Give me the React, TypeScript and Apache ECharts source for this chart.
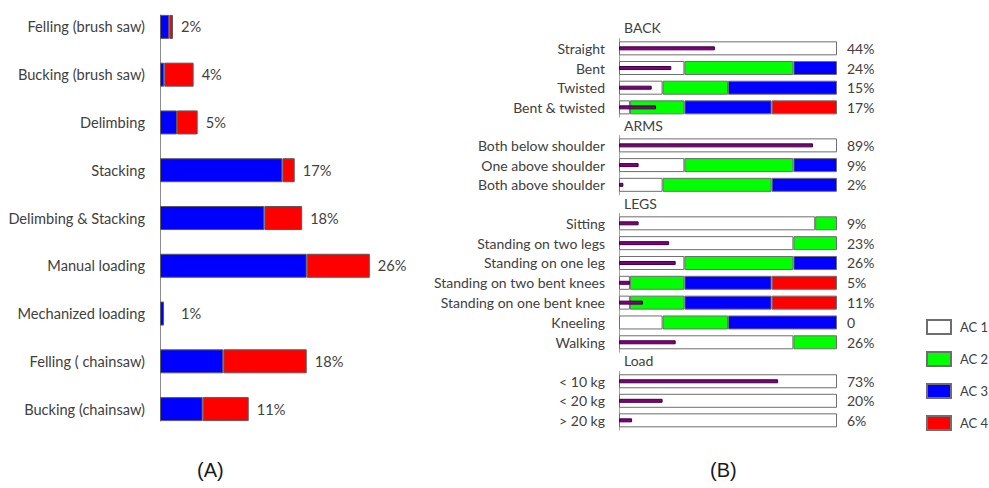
import React, { useEffect, useRef } from "react";
import * as echarts from "echarts";

// ---------- Panel A data ----------
const tasks = [
  "Felling (brush saw)",
  "Bucking (brush saw)",
  "Delimbing",
  "Stacking",
  "Delimbing & Stacking",
  "Manual loading",
  "Mechanized loading",
  "Felling ( chainsaw)",
  "Bucking (chainsaw)",
];
const taskBlue = [1.15, 0.53, 2.11, 15.17, 12.94, 18.19, 0.5, 7.85, 5.29];
const taskRed = [0.46, 3.64, 2.56, 1.53, 4.68, 7.82, 0, 10.34, 5.71];
const taskLabels = ["2%", "4%", "5%", "17%", "18%", "26%", "1%", "18%", "11%"];

// ---------- Panel B data ----------
const sectionTitles = ["BACK", "ARMS", "LEGS", "Load"];
const backRows = ["Straight", "Bent", "Twisted", "Bent & twisted"];
const armsRows = ["Both below shoulder", "One above shoulder", "Both above shoulder"];
const legsRows = [
  "Sitting",
  "Standing on two legs",
  "Standing on one leg",
  "Standing on two bent knees",
  "Standing on one bent knee",
  "Kneeling",
  "Walking",
];
const loadRows = ["< 10 kg", "< 20 kg", "> 20 kg"];

const ac1Values = [[100, 30, 20, 5], [100, 30, 20], [90, 80, 30, 5, 5, 20, 80], [100, 100, 100]];
const ac2Values = [[0, 50, 30, 25], [0, 50, 50], [10, 20, 50, 25, 25, 30, 20], [0, 0, 0]];
const ac3Values = [[0, 20, 50, 40], [0, 20, 30], [0, 0, 20, 40, 40, 50, 0], [0, 0, 0]];
const ac4Values = [[0, 0, 0, 30], [0, 0, 0], [0, 0, 0, 30, 30, 0, 0], [0, 0, 0]];
const postureShare = [[44, 24, 15, 17], [89, 9, 2], [9, 23, 26, 5, 11, 0, 26], [73, 20, 6]];
const postureLabels = [
  ["44%", "24%", "15%", "17%"],
  ["89%", "9%", "2%"],
  ["9%", "23%", "26%", "5%", "11%", "0", "26%"],
  ["73%", "20%", "6%"],
];
const acNames = ["AC 1", "AC 2", "AC 3", "AC 4"];

// ---------- styles ----------
const FONT = "Lato";
const TEXT = "#404040";
const acColors = ["#ffffff", "#00ff00", "#0000ff", "#ff0000"];
const sectionRows = [backRows, armsRows, legsRows, loadRows];
const acValues = [ac1Values, ac2Values, ac3Values, ac4Values];
const sectionLayout = [
  { top: 38.5, height: 78.7 },
  { top: 135.5, height: 59.2 },
  { top: 213.4, height: 138.8 },
  { top: 371.5, height: 58.6 },
];
const headerTops = [20, 118, 196, 353];

function buildOption() {
  const grid: any[] = [
    { left: 160, top: 3, width: 242, height: 430 },
    { left: 160, top: 15, width: 242, height: 406 },
  ];
  const xAxis: any[] = [
    { type: "value", gridIndex: 0, min: 0, max: 30, show: false },
    { type: "value", gridIndex: 1, min: 0, max: 1, show: false },
  ];
  const yAxis: any[] = [
    {
      type: "category",
      gridIndex: 0,
      data: tasks,
      inverse: true,
      axisLine: { show: false },
      axisTick: { show: false },
      axisLabel: { margin: 15, color: TEXT, fontSize: 14.6, fontFamily: FONT },
    },
    {
      type: "value",
      gridIndex: 1,
      min: 0,
      max: 1,
      axisLine: { show: true, lineStyle: { color: "#8c8c8c", width: 1 } },
      axisTick: { show: false },
      axisLabel: { show: false },
      splitLine: { show: false },
    },
  ];
  const series: any[] = [
    {
      type: "bar",
      name: "A blue",
      xAxisIndex: 0,
      yAxisIndex: 0,
      stack: "a",
      barWidth: 24,
      data: taskBlue,
      itemStyle: { color: "#0000ff", borderColor: "#5a5a5a", borderWidth: 1 },
    },
    {
      type: "bar",
      name: "A red",
      xAxisIndex: 0,
      yAxisIndex: 0,
      stack: "a",
      barWidth: 24,
      data: taskRed.map((v, i) => ({
        value: v,
        itemStyle: v === 0 ? { borderWidth: 0 } : undefined,
        label: { distance: v === 0 ? 17 : 8, formatter: taskLabels[i] },
      })),
      itemStyle: { color: "#ff0000", borderColor: "#5a5a5a", borderWidth: 1 },
      label: { show: true, position: "right", color: TEXT, fontSize: 14.6, fontFamily: FONT },
    },
  ];

  sectionRows.forEach((rows, s) => {
    const gi = grid.length;
    grid.push({ left: 619, width: 218, top: sectionLayout[s].top, height: sectionLayout[s].height });
    xAxis.push({ type: "value", gridIndex: gi, min: 0, max: 100, show: false });
  });
  sectionRows.forEach((rows, s) => {
    yAxis.push({
      type: "category",
      gridIndex: 2 + s,
      data: rows,
      inverse: true,
      axisLine: { show: true, lineStyle: { color: "#a6a6a6", width: 1 } },
      axisTick: { show: false },
      axisLabel: { margin: 14, color: TEXT, fontSize: 14, fontFamily: FONT },
    });
  });
  sectionRows.forEach((rows, s) => {
    yAxis.push({ type: "category", gridIndex: 2 + s, data: rows, inverse: true, show: false });
  });

  sectionRows.forEach((rows, s) => {
    const lastK = rows.map((_, i) => {
      let last = 0;
      for (let k = 0; k < 4; k++) if (acValues[k][s][i] > 0) last = k;
      return last;
    });
    for (let k = 0; k < 4; k++) {
      series.push({
        type: "bar",
        name: acNames[k],
        xAxisIndex: 2 + s,
        yAxisIndex: 2 + s,
        stack: "b" + s,
        barWidth: 14,
        itemStyle: { color: acColors[k], borderColor: "#6e6e6e", borderWidth: 1 },
        data: rows.map((_, i) => {
          const v = acValues[k][s][i];
          const item: any = { value: v > 0 ? v : "-" };
          if (lastK[i] === k) {
            item.label = {
              show: true,
              position: "right",
              distance: 10,
              formatter: postureLabels[s][i],
              color: TEXT,
              fontSize: 14,
              fontFamily: FONT,
            };
          }
          return item;
        }),
      });
    }
    series.push({
      type: "bar",
      name: "Share",
      xAxisIndex: 2 + s,
      yAxisIndex: 6 + s,
      barWidth: 4,
      z: 5,
      itemStyle: { color: "#800080", borderColor: "#3d003d", borderWidth: 1 },
      data: postureShare[s].map((v) => (v > 0 ? v : "-")),
    });
  });

  const title: any[] = [
    { text: "(A)", left: 197, top: 460, padding: 0, textStyle: { fontFamily: "Liberation Sans", fontSize: 20, fontWeight: "normal", color: "#1a1a1a" } },
    { text: "(B)", left: 710, top: 460, padding: 0, textStyle: { fontFamily: "Liberation Sans", fontSize: 20, fontWeight: "normal", color: "#1a1a1a" } },
  ];
  sectionTitles.forEach((t, s) => {
    title.push({
      text: t,
      left: 624,
      top: headerTops[s],
      padding: 0,
      textStyle: { fontFamily: FONT, fontSize: 14, fontWeight: "normal", color: TEXT },
    });
  });

  return {
    animation: false,
    backgroundColor: "#ffffff",
    title,
    grid,
    xAxis,
    yAxis,
    legend: {
      data: acNames,
      orient: "vertical",
      left: 926,
      top: 319,
      padding: 0,
      itemWidth: 24,
      itemHeight: 14,
      itemGap: 16,
      icon: "rect",
      selectedMode: false,
      textStyle: { color: TEXT, fontSize: 13, fontFamily: FONT, padding: [0, 0, 0, 4] },
    },
    series,
  };
}

export default function App() {
  const ref = useRef<HTMLDivElement>(null);
  useEffect(() => {
    if (!ref.current) return;
    const chart = echarts.init(ref.current, undefined, { renderer: "svg" });
    chart.setOption(buildOption() as any);
    return () => chart.dispose();
  }, []);
  return (
    <div
      ref={ref}
      style={{ position: "fixed", left: 0, top: 0, width: 989, height: 488, background: "#fff" }}
    />
  );
}
